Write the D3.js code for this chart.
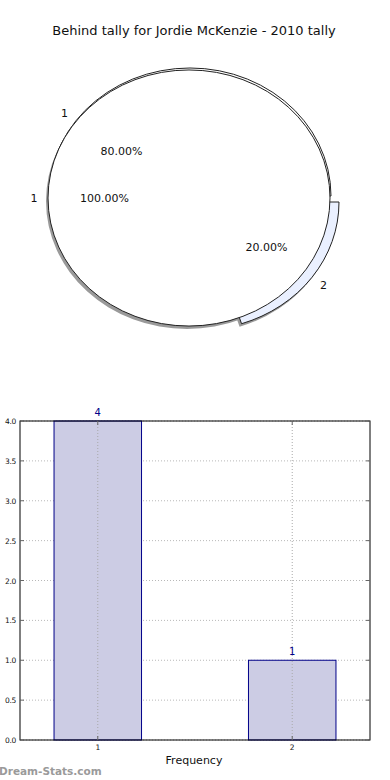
<!DOCTYPE html>
<html lang="en">
<head>
<meta charset="UTF-8">
<style>
  body { margin: 0; padding: 0; background: #fff; overflow: hidden; }
  #chart { display: block; }
  text { font-family: "DejaVu Sans", sans-serif; }
</style>
</head>
<body>
<svg id="chart" width="390" height="780"></svg>
<script src="https://cdn.jsdelivr.net/npm/d3@7"></script>
<script>
// data
const title = "Behind tally for Jordie McKenzie - 2010 tally";
const outerLabels = ["1", "2"];
const outerValues = [4, 1];
const innerLabels = ["1"];
const innerValues = [1];
const barCats = ["1", "2"];
const barValues = [4, 1];
const yTicks = [0, 0.5, 1, 1.5, 2, 2.5, 3, 3.5, 4];

const svg = d3.select("#chart");

svg.append("text")
    .attr("x", 194).attr("y", 35)
    .attr("text-anchor", "middle")
    .attr("font-size", 13)
    .attr("fill", "#111")
    .text(title);

// ---- pie (ellipse because axes aren't square) ----
const cx = 189, cy = 198, rx = 141, ry = 128;
const pie = d3.pie().sort(null)
    .startAngle(Math.PI / 2).endAngle(Math.PI / 2 - 2 * Math.PI); // ccw from 3 o'clock
const arc = d3.arc().innerRadius(0).outerRadius(rx);

const pieG = svg.append("g");
// squash vertically so the circle becomes an ellipse
function wedge(d, dx, dy, fill, stroke) {
    pieG.append("path")
        .attr("d", arc(d))
        .attr("transform", `translate(${cx + dx},${cy + dy}) scale(1,${ry / rx})`)
        .attr("fill", fill)
        .attr("stroke", stroke)
        .attr("stroke-width", stroke === "none" ? 0 : 1)
        .attr("vector-effect", "non-scaling-stroke");
}

const outerArcs = pie(outerValues);
const innerArcs = pie(innerValues);
const explode = [[1, -2], [9, 4]];

// shadows
wedge(innerArcs[0], -2, 3, "#9a9a9a", "none");
wedge(outerArcs[1], explode[1][0] - 2, explode[1][1] + 3, "#9a9a9a", "none");
// outer pie wedges
wedge(outerArcs[0], explode[0][0], explode[0][1], "#fff", "#222");
wedge(outerArcs[1], explode[1][0], explode[1][1], "#eaf0ff", "#222");
// inner full pie on top
wedge(innerArcs[0], 0, 0, "#fff", "#222");

function polar(a, f) {
    // d3 angle: 0 at 12 o'clock, clockwise
    return [Math.sin(a) * rx * f, -Math.cos(a) * ry * f];
}
function label(d, off, f, txt) {
    const m = (d.startAngle + d.endAngle) / 2;
    const p = polar(m, f);
    svg.append("text")
        .attr("x", cx + off[0] + p[0])
        .attr("y", cy + off[1] + p[1] + 4)
        .attr("text-anchor", "middle")
        .attr("font-size", 11)
        .attr("fill", "#111")
        .text(txt);
}
const tot = d3.sum(outerValues);
outerArcs.forEach((d, i) => {
    label(d, explode[i], 1.1, outerLabels[i]);
    label(d, explode[i], 0.6, (outerValues[i] / tot * 100).toFixed(2) + "%");
});
innerArcs.forEach((d, i) => {
    label(d, [0, 0], 1.1, innerLabels[i]);
    label(d, [0, 0], 0.6, "100.00%");
});

// ---- bar chart ----
const pl = 20, pr = 370, pt = 421, pb = 740;
const x = d3.scaleLinear().domain([-0.4, 1.4]).range([pl, pr]);
const y = d3.scaleLinear().domain([0, 4]).range([pb, pt]);
const bw = 0.45;

const bars = svg.append("g");
// grid
bars.selectAll(".hg").data(yTicks).enter().append("line")
    .attr("x1", pl).attr("x2", pr)
    .attr("y1", d => y(d)).attr("y2", d => y(d))
    .attr("stroke", "#b8b8b8").attr("stroke-dasharray", "1,2");

bars.selectAll(".bar").data(barValues).enter().append("rect")
    .attr("x", (d, i) => x(i - bw / 2))
    .attr("width", x(bw) - x(0))
    .attr("y", d => y(d))
    .attr("height", d => y(0) - y(d))
    .attr("fill", "#ccccE4")
    .attr("stroke", "#000088")
    .attr("stroke-width", 1);

bars.selectAll(".vg").data(barCats).enter().append("line")
    .attr("x1", (d, i) => x(i)).attr("x2", (d, i) => x(i))
    .attr("y1", pt).attr("y2", pb)
    .attr("stroke", "#aaa").attr("stroke-dasharray", "1,2");

bars.selectAll(".val").data(barValues).enter().append("text")
    .attr("x", (d, i) => x(i))
    .attr("y", d => y(d) - 5)
    .attr("text-anchor", "middle")
    .attr("font-size", 10)
    .attr("fill", "#000088")
    .text(d => d);

// frame
bars.append("rect")
    .attr("x", pl).attr("y", pt)
    .attr("width", pr - pl).attr("height", pb - pt)
    .attr("fill", "none").attr("stroke", "#000").attr("stroke-width", 1);

// y axis ticks and labels
yTicks.forEach(t => {
    bars.append("line").attr("x1", pl).attr("x2", pl + 4)
        .attr("y1", y(t)).attr("y2", y(t)).attr("stroke", "#666");
    bars.append("line").attr("x1", pr - 4).attr("x2", pr)
        .attr("y1", y(t)).attr("y2", y(t)).attr("stroke", "#666");
    bars.append("text")
        .attr("x", pl - 4).attr("y", y(t) + 3)
        .attr("text-anchor", "end")
        .attr("font-size", 7.5)
        .attr("letter-spacing", -0.3)
        .attr("fill", "#111")
        .text(t.toFixed(1));
});
barCats.forEach((c, i) => {
    bars.append("line").attr("x1", x(i)).attr("x2", x(i))
        .attr("y1", pb).attr("y2", pb - 4).attr("stroke", "#666");
    bars.append("line").attr("x1", x(i)).attr("x2", x(i))
        .attr("y1", pt).attr("y2", pt + 4).attr("stroke", "#666");
    bars.append("text")
        .attr("x", x(i)).attr("y", pb + 10)
        .attr("text-anchor", "middle")
        .attr("font-size", 7.5)
        .attr("fill", "#111")
        .text(c);
});

svg.append("text")
    .attr("x", 194).attr("y", 764)
    .attr("text-anchor", "middle")
    .attr("font-size", 11)
    .attr("fill", "#111")
    .text("Frequency");

svg.append("text")
    .attr("x", -1).attr("y", 775)
    .attr("font-size", 10.5)
    .attr("font-weight", "bold")
    .attr("fill", "#9a9a9a")
    .text("Dream-Stats.com");
</script>
</body>
</html>
